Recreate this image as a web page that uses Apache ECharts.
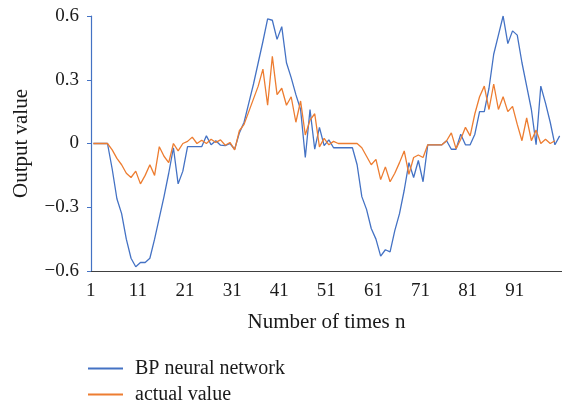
<!DOCTYPE html>
<html>
<head>
<meta charset="utf-8">
<script src="https://cdn.jsdelivr.net/npm/echarts@6/dist/echarts.min.js"></script>
<style>
html,body{margin:0;padding:0;background:#fff;}
#chart{width:562px;height:406px;}
</style>
</head>
<body>
<div id="chart"></div>
<script>
const categories = Array.from({length: 100}, (_, i) => String(i + 1));
const bpNetwork = [
  0, 0, 0, 0, -0.12, -0.26, -0.33, -0.45, -0.54, -0.58,
  -0.56, -0.56, -0.54, -0.45, -0.35, -0.25, -0.14, -0.02, -0.19, -0.13,
  -0.015, -0.015, -0.015, -0.015, 0.036, -0.006, 0.013, -0.008, -0.01, 0.0,
  -0.027, 0.05, 0.1, 0.19, 0.28, 0.38, 0.48, 0.586, 0.58, 0.49,
  0.55, 0.38, 0.31, 0.23, 0.16, -0.066, 0.16, -0.027, 0.076, -0.01,
  0.017, -0.02, -0.02, -0.02, -0.02, -0.02, -0.1, -0.25, -0.31, -0.4,
  -0.45, -0.53, -0.5, -0.51, -0.41, -0.33, -0.22, -0.09, -0.16, -0.08,
  -0.18, -0.006, -0.006, -0.006, -0.006, 0.013, -0.027, -0.027, 0.044, -0.006,
  -0.006, 0.044, 0.15, 0.15, 0.26, 0.42, 0.51, 0.6, 0.47, 0.53,
  0.51, 0.38, 0.27, 0.16, -0.006, 0.27, 0.19, 0.1, -0.006, 0.036
];
const actualValue = [
  0, 0, 0, 0, -0.03, -0.07, -0.1, -0.14, -0.16, -0.13,
  -0.19, -0.15, -0.1, -0.15, -0.015, -0.06, -0.09, 0.0, -0.035, 0.0,
  0.01, 0.03, 0.0, 0.015, 0.0, 0.02, 0.005, 0.017, -0.008, 0.005,
  -0.03, 0.06, 0.09, 0.15, 0.21, 0.27, 0.35, 0.18, 0.41, 0.23,
  0.26, 0.18, 0.22, 0.1, 0.2, 0.04, 0.11, 0.14, -0.016, 0.024,
  -0.006, 0.01, 0.0, 0.0, 0.0, 0.0, 0.0, -0.02, -0.06, -0.1,
  -0.075, -0.17, -0.11, -0.18, -0.14, -0.09, -0.035, -0.145, -0.066, -0.054,
  -0.066, -0.006, -0.006, -0.006, -0.006, 0.013, 0.05, -0.024, 0.02, 0.076,
  0.036, 0.14, 0.22, 0.27, 0.16, 0.28, 0.16, 0.22, 0.15, 0.175,
  0.09, 0.013, 0.12, 0.013, 0.063, 0.0, 0.02, 0.0, 0.013, null
];
const yTicks = [-0.6, -0.3, 0, 0.3, 0.6];
const seriesNames = ['BP neural network', 'actual value'];

const FONT = '"Liberation Serif", "DejaVu Serif", serif';
const chart = echarts.init(document.getElementById('chart'), null, {renderer: 'canvas'});
chart.setOption({
  animation: false,
  color: ['#4472C4', '#ED7D31'],
  grid: {left: 91, top: 16, width: 472, height: 255, containLabel: false},
  legend: {
    data: seriesNames,
    orient: 'vertical',
    left: 88,
    top: 358,
    padding: 0,
    itemWidth: 35,
    itemHeight: 2,
    itemGap: 5,
    icon: 'rect',
    textStyle: {fontFamily: FONT, fontSize: 20, lineHeight: 21, color: '#1a1a1a', padding: [0, 0, 0, 7]}
  },
  xAxis: {
    type: 'category',
    data: categories,
    boundaryGap: true,
    name: 'Number of times n',
    nameLocation: 'middle',
    nameGap: 41,
    nameTextStyle: {fontFamily: FONT, fontSize: 21, color: '#1a1a1a'},
    axisLine: {onZero: false, lineStyle: {color: '#404040', width: 1.2}},
    axisTick: {interval: 9, length: 4, lineStyle: {color: '#404040'}},
    axisLabel: {interval: 9, margin: 11, fontFamily: FONT, fontSize: 19, color: '#1a1a1a', padding: [0, 5, 0, 0]},
    splitLine: {show: false}
  },
  yAxis: {
    type: 'value',
    min: yTicks[0],
    max: yTicks[yTicks.length - 1],
    interval: 0.3,
    name: 'Output value',
    nameLocation: 'middle',
    nameGap: 59,
    nameTextStyle: {fontFamily: FONT, fontSize: 21, color: '#1a1a1a'},
    axisLine: {show: true, lineStyle: {color: '#4472C4', width: 1.2}},
    axisTick: {show: true, length: 4, lineStyle: {color: '#4472C4'}},
    axisLabel: {
      margin: 12, fontFamily: FONT, fontSize: 19, color: '#1a1a1a',
      formatter: v => { const r = Math.round(v * 10) / 10; return r === 0 ? '0' : String(r).replace('-', '\u2212'); }
    },
    splitLine: {show: false}
  },
  series: [
    {name: seriesNames[0], type: 'line', data: bpNetwork, symbol: 'none', lineStyle: {width: 1.3, color: '#4472C4'}, z: 2},
    {name: seriesNames[1], type: 'line', data: actualValue, symbol: 'none', lineStyle: {width: 1.3, color: '#ED7D31'}, z: 3}
  ]
});
</script>
</body>
</html>
